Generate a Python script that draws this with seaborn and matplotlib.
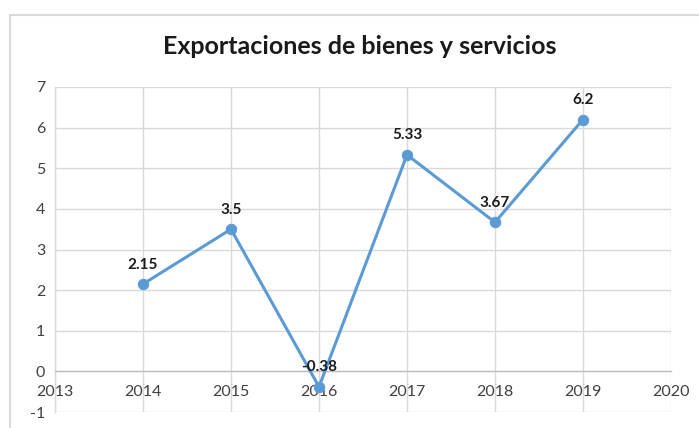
import matplotlib
matplotlib.use("Agg")
import matplotlib.pyplot as plt
import seaborn as sns
import pandas as pd
from matplotlib.lines import Line2D

# Exports of goods and services, annual growth (%)
years = [2014, 2015, 2016, 2017, 2018, 2019]
values = [2.15, 3.5, -0.38, 5.33, 3.67, 6.2]
value_labels = ["2.15", "3.5", "-0.38", "5.33", "3.67", "6.2"]
x_ticks = [2013, 2014, 2015, 2016, 2017, 2018, 2019, 2020]
y_ticks = [-1, 0, 1, 2, 3, 4, 5, 6, 7]
title = "Exportaciones de bienes y servicios"

sns.set_theme(style="white")
plt.rcParams["font.family"] = ["Lato", "DejaVu Sans"]

df = pd.DataFrame({"year": years, "value": values})

fig = plt.figure(figsize=(6.99, 4.28), dpi=100)
ax = fig.add_axes([55 / 699, 1 - 412 / 428, (671 - 55) / 699, (412 - 87) / 428])

line_color = "#5B9BD5"
grid_color = "#D9D9D9"

sns.lineplot(data=df, x="year", y="value", ax=ax, color=line_color,
             linewidth=2.2, marker="o", markersize=7.5,
             markeredgecolor=line_color, markerfacecolor=line_color, zorder=3)

ax.set_xlim(x_ticks[0], x_ticks[-1])
ax.set_ylim(y_ticks[0], y_ticks[-1])
ax.set_xticks(x_ticks)
ax.set_yticks(y_ticks)
ax.set_xticklabels([str(t) for t in x_ticks])
ax.set_yticklabels([str(t) for t in y_ticks])
ax.set_xlabel("")
ax.set_ylabel("")

ax.grid(True, color=grid_color, linewidth=1.0)
ax.set_axisbelow(True)

for side in ["top", "right"]:
    ax.spines[side].set_visible(False)
ax.spines["left"].set_color(grid_color)
ax.spines["left"].set_linewidth(1.0)
ax.spines["bottom"].set_position(("data", 0))
ax.spines["bottom"].set_color("#BFBFBF")
ax.spines["bottom"].set_linewidth(1.0)

ax.tick_params(axis="x", length=0, pad=10, labelsize=11.5, colors="#404040")
ax.tick_params(axis="y", length=0, pad=7, labelsize=11.5, colors="#404040")

for x, y, lab in zip(years, values, value_labels):
    ax.annotate(lab, (x, y), xytext=(0, 14), textcoords="offset points",
                ha="center", va="center", fontsize=11, fontweight="bold",
                color="#1a1a1a", zorder=4)

fig.text(360 / 699, 1 - 47 / 428, title, ha="center", va="center",
         fontsize=18, fontweight="bold", color="#1a1a1a")

# Chart frame
fig.add_artist(Line2D([10 / 699, 1.0], [1 - 15 / 428, 1 - 15 / 428],
                      transform=fig.transFigure, color="#D9D9D9", linewidth=1.5))
fig.add_artist(Line2D([10 / 699, 10 / 699], [0.0, 1 - 15 / 428],
                      transform=fig.transFigure, color="#D9D9D9", linewidth=1.5))

fig.savefig("out.png", dpi=100, facecolor="white")
